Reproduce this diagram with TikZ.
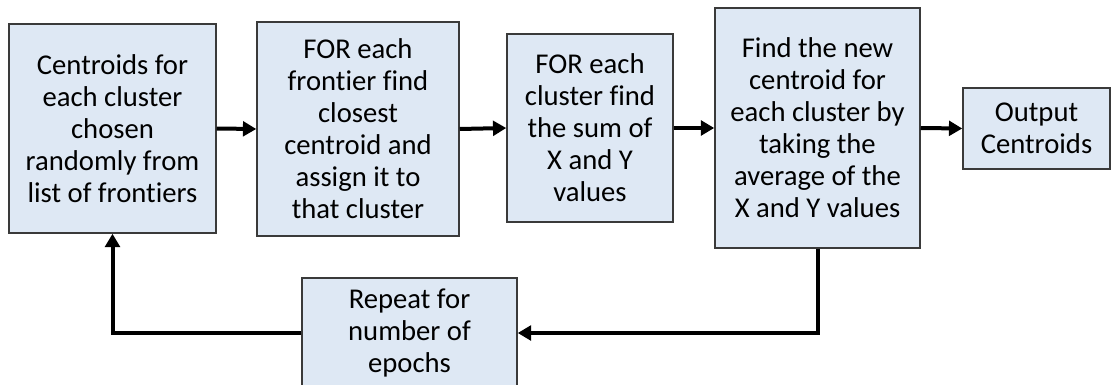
\documentclass[tikz,border=0pt]{standalone}
\usepackage{fontspec}
\setmainfont{Carlito}[Ligatures=NoCommon]
\usetikzlibrary{arrows.meta}
\definecolor{stepFill}{HTML}{DEE8F4}
\definecolor{stepStroke}{HTML}{3A3A3A}

\begin{document}
\begin{tikzpicture}[
  x=0.75pt,y=-0.75pt,
  font=\fontsize{21.5pt}{24pt}\selectfont,
  stepbox/.style={rectangle,draw=stepStroke,line width=1.1pt,fill=stepFill,align=center,inner sep=0pt},
  flow/.style={-{Triangle[length=10pt,width=11pt]},line width=3pt,draw=black}
]
\useasboundingbox (0,0) rectangle (1113,385);
% Main chain of the clustering loop, left to right on one row.
\node[stepbox,minimum width=155.25pt,minimum height=156.75pt] (init) at (112.5,128.5) {Centroids for\\each cluster\\chosen\\randomly from\\list of frontiers};
\node[stepbox,minimum width=151.5pt,minimum height=160.5pt] (assign) at (358,129) {FOR each\\frontier find\\closest\\centroid and\\assign it to\\that cluster};
\node[stepbox,minimum width=124.5pt,minimum height=141pt] (sum) at (590,128) {FOR each\\cluster find\\the sum of\\X and Y\\values};
\node[stepbox,minimum width=153.75pt,minimum height=180pt] (update) at (817.5,128) {Find the new\\centroid for\\each cluster by\\taking the\\average of the\\X and Y values};
\node[stepbox,minimum width=110.25pt,minimum height=60.75pt] (output) at (1036.5,128.5) {Output\\Centroids};
\node[stepbox,minimum width=161.25pt,minimum height=82.5pt] (repeat) at (409.5,333) {Repeat for\\number of\\epochs};
\draw[flow] (init.east) -- (assign.west);
\draw[flow] (assign.east) -- (sum.west);
\draw[flow] (sum.east) -- (update.west);
\draw[flow] (update.east) -- (output.west);
\draw[flow] (update.south) |- (repeat.east);
\draw[flow] (repeat.west) -| (init.south);
\end{tikzpicture}
\end{document}
